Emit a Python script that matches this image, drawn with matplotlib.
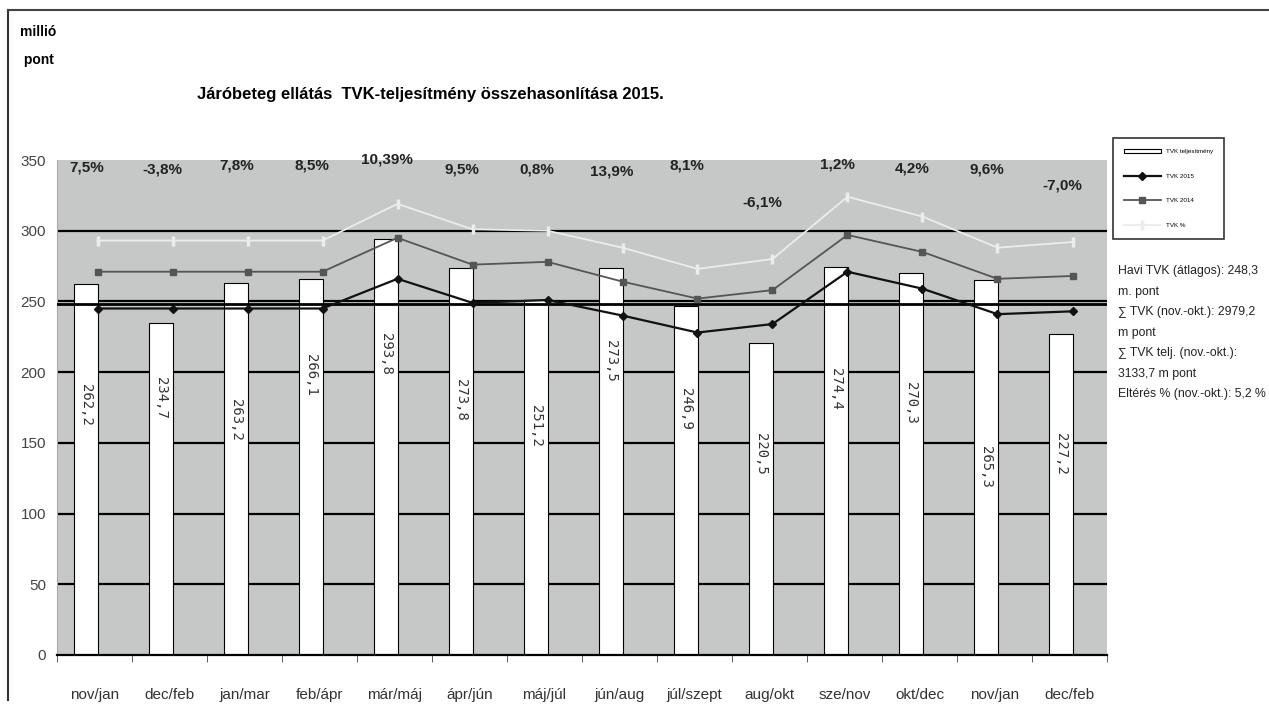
import numpy as np
import matplotlib
matplotlib.use('Agg')
import matplotlib.pyplot as plt
from matplotlib.lines import Line2D

plt.rcParams['font.family'] = ['Liberation Sans', 'DejaVu Sans']

# időszakok (kéthavi csúszó)
periods = ['nov/jan', 'dec/feb', 'jan/mar', 'feb/ápr', 'már/máj', 'ápr/jún', 'máj/júl',
           'jún/aug', 'júl/szept', 'aug/okt', 'sze/nov', 'okt/dec', 'nov/jan', 'dec/feb']

# TVK teljesítmény (oszlopok), millió pont
tvk_telj = [262.2, 234.7, 263.2, 266.1, 293.8, 273.8, 251.2,
            273.5, 246.9, 220.5, 274.4, 270.3, 265.3, 227.2]
telj_labels = ['262,2', '234,7', '263,2', '266,1', '293,8', '273,8', '251,2',
               '273,5', '246,9', '220,5', '274,4', '270,3', '265,3', '227,2']

# TVK keretek (vonalak)
tvk_black = [245, 245, 245, 245, 266, 249, 251, 240, 228, 234, 271, 259, 241, 243]
tvk_gray = [271, 271, 271, 271, 295, 276, 278, 264, 252, 258, 297, 285, 266, 268]
tvk_light = [293, 293, 293, 293, 319, 301, 300, 288, 273, 280, 324, 310, 288, 292]

# eltérés %
pct_labels = ['7,5%', '-3,8%', '7,8%', '8,5%', '10,39%', '9,5%', '0,8%',
              '13,9%', '8,1%', '-6,1%', '1,2%', '4,2%', '9,6%', '-7,0%']

havi_atlag = 248.3

# elhelyezés (nem adat)
pct_y = [345, 343, 346, 346, 350, 343, 343, 342, 346, 320, 347, 344, 343, 332]
label_y = [177, 182, 166, 198, 213, 180, 162, 208, 174, 142, 188, 178, 133, 142]

x = np.arange(len(periods))

fig = plt.figure(figsize=(12.69, 7.13), dpi=100)
ax = fig.add_axes([57 / 1269, 1 - 655 / 713, 1050 / 1269, 495 / 713])
ax.set_facecolor('#c6c8c8')

ax.set_xlim(-0.5, len(periods) - 0.5)
ax.set_ylim(0, 350)
ax.set_yticks(np.arange(0, 351, 50))
for yv in range(50, 301, 50):
    ax.axhline(yv, color='black', lw=1.6, zorder=1)

bars = ax.bar(x - 0.27, tvk_telj, width=0.31, align='edge', color='white',
              edgecolor='black', lw=0.8, zorder=2)
ax.axhline(havi_atlag, color='black', lw=2, zorder=3)

lx = x + 0.04
l1, = ax.plot(lx, tvk_black, color='#111111', lw=1.6, marker='D', ms=4, zorder=5)
l2, = ax.plot(lx, tvk_gray, color='#555555', lw=1.3, marker='s', ms=4.5, zorder=4)
l3, = ax.plot(lx, tvk_light, color='#ececec', lw=1.3, marker='|', ms=7, mew=2.5, zorder=4)

for i, t in enumerate(telj_labels):
    ax.text(x[i] - 0.115, label_y[i], t, rotation=-90, ha='center', va='center',
            fontsize=10, color='#333333', family='DejaVu Sans Mono', zorder=6)

for i, t in enumerate(pct_labels):
    ax.text(x[i] - 0.1, pct_y[i], t, ha='center', va='center', fontsize=11,
            fontweight='bold', color='#222222', clip_on=False, zorder=6)

for s in ['top', 'right']:
    ax.spines[s].set_visible(False)
ax.spines['left'].set_color('#aaaaaa')
ax.spines['bottom'].set_linewidth(1.6)

ax.set_xticks(x)
ax.set_xticklabels(periods, fontsize=11, color='#333333')
ax.tick_params(axis='x', length=0, pad=24)
ax.set_xticks(np.arange(-0.5, len(periods), 1), minor=True)
ax.tick_params(axis='x', which='minor', length=5, color='#444444')
ax.tick_params(axis='y', labelsize=11, labelcolor='#444444', length=0, pad=8)

fig.text(20 / 1269, 1 - 46 / 713, 'millió\n pont', fontsize=10, fontweight='bold',
         va='center', ha='left', linespacing=2.2)
fig.text(430 / 1269, 1 - 95 / 713, 'Járóbeteg ellátás  TVK-teljesítmény összehasonlítása 2015.',
         fontsize=12, fontweight='bold', ha='center', va='center')

info = ('Havi TVK (átlagos): 248,3\nm. pont\n∑ TVK (nov.-okt.): 2979,2\nm pont\n'
        '∑ TVK telj. (nov.-okt.):\n3133,7 m pont\nEltérés % (nov.-okt.): 5,2 %')
fig.text(1118 / 1269, 1 - 265 / 713, info, fontsize=8.8, va='top', ha='left',
         linespacing=1.95, color='#222222')

leg = ax.legend([bars, l1, l2, l3],
                ['TVK teljesítmény', 'TVK 2015', 'TVK 2014', 'TVK %'],
                loc='upper left', bbox_to_anchor=(1113 / 1269, 1 - 138 / 713),
                bbox_transform=fig.transFigure, fontsize=4.5, labelspacing=3.1,
                frameon=True, fancybox=False, borderpad=1.7, handlelength=6,
                handletextpad=0.8, borderaxespad=0)
leg.get_frame().set_edgecolor('black')
leg.get_frame().set_linewidth(1.2)

# keret a lap szélén
fig.add_artist(Line2D([8 / 1269, 8 / 1269], [1 - 10 / 713, 1 - 700 / 713],
                      transform=fig.transFigure, color='#333333', lw=1.5))
fig.add_artist(Line2D([8 / 1269, 1], [1 - 10 / 713, 1 - 10 / 713],
                      transform=fig.transFigure, color='#444444', lw=1.5))

fig.savefig('out.png', dpi=100)
